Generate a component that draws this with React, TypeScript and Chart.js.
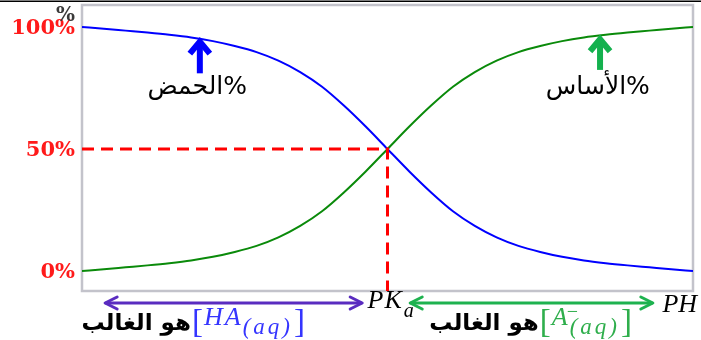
import { useEffect, useRef } from 'react';
import { Chart, registerables } from 'chart.js';
Chart.register(...registerables);

// pH positions along the x axis
const phValues = [0, 0.5, 1, 1.5, 2, 2.5, 3, 3.5, 4, 4.5, 5, 5.5, 6, 6.5, 7, 7.5, 8, 8.5, 9, 9.5, 10, 10.5, 11, 11.5, 12, 12.5, 13, 13.5, 14];
// % acid (HA) – blue curve
const acidPct = [100, 99.3, 98.5, 97.7, 96.8, 95.7, 94.2, 92.2, 89.7, 86.2, 81.5, 75.5, 67.8, 59.2, 50, 40.8, 32.2, 24.5, 18.5, 13.8, 10.3, 7.8, 5.8, 4.3, 3.2, 2.3, 1.5, 0.7, 0];
// % base (A-) – green curve
const basePct = [0, 0.7, 1.5, 2.3, 3.2, 4.3, 5.8, 7.8, 10.3, 13.8, 18.5, 24.5, 32.2, 40.8, 50, 59.2, 67.8, 75.5, 81.5, 86.2, 89.7, 92.2, 94.2, 95.7, 96.8, 97.7, 98.5, 99.3, 100];

const pKa = 7;
const halfPct = 50;
const yTicks = [100, 50, 0];
const yTickLabels = ['100%', '50%', '0%'];
const yMin = -8.2;
const yMax = 109;

const acidLabel = '%الحمض';
const baseLabel = '%الأساس';
const dominantLabel = 'هو الغالب';

// arrow annotations (pH, from %, to %)
const acidArrow = { ph: 2.7, from: 81, to: 94.8 };
const baseArrow = { ph: 11.87, from: 82.4, to: 95.8 };
const acidTextPos = { ph: 2.64, pct: 75 };
const baseTextPos = { ph: 11.82, pct: 75 };
// bottom ranges
const acidRange = [0.53, 6.42];
const baseRange = [7.52, 13.08];
const acidBracketPh = 2.52;
const baseBracketPh = 10.49;
const phLabelPh = 13.3;

function chevron(ctx: CanvasRenderingContext2D, tx: number, ty: number, dx: number, dy: number, len: number, half: number) {
  const px = -dy, py = dx;
  ctx.beginPath();
  ctx.moveTo(tx - dx * len + px * half, ty - dy * len + py * half);
  ctx.lineTo(tx, ty);
  ctx.lineTo(tx - dx * len - px * half, ty - dy * len - py * half);
  ctx.stroke();
}

const annotPlugin = {
  id: 'annot',
  beforeDatasetsDraw(chart: any) {
    const { ctx, chartArea: a } = chart;
    ctx.save();
    ctx.strokeStyle = '#c3c3cb';
    ctx.lineWidth = 2.5;
    ctx.strokeRect(a.left, a.top, a.right - a.left, a.bottom - a.top);
    ctx.restore();
  },
  afterDraw(chart: any) {
    const { ctx, chartArea: a, scales } = chart;
    const xs = scales.x, ys = scales.y;
    ctx.save();
    // top rule
    ctx.strokeStyle = '#000';
    ctx.lineWidth = 1.6;
    ctx.beginPath();
    ctx.moveTo(0, 1.2);
    ctx.lineTo(chart.width, 1.2);
    ctx.stroke();

    // y tick labels
    ctx.font = 'bold 21px "DejaVu Serif"';
    ctx.fillStyle = '#ff1a1a';
    ctx.textAlign = 'right';
    ctx.textBaseline = 'middle';
    yTicks.forEach((v, i) => {
      ctx.fillText(yTickLabels[i], a.left - 7, ys.getPixelForValue(v) + 2);
    });
    ctx.fillStyle = '#3a3a3a';
    ctx.font = 'bold 20px "DejaVu Serif"';
    ctx.fillText('%', a.left - 7, a.top + 11);

    // vertical arrows
    const drawUp = (arr: any, color: string) => {
      const x = xs.getPixelForValue(arr.ph);
      const y0 = ys.getPixelForValue(arr.from);
      const y1 = ys.getPixelForValue(arr.to);
      ctx.strokeStyle = color;
      ctx.lineWidth = 6;
      ctx.lineCap = 'butt';
      ctx.lineJoin = 'miter';
      ctx.beginPath();
      ctx.moveTo(x, y0);
      ctx.lineTo(x, y1 + 3);
      ctx.stroke();
      chevron(ctx, x, y1 + 2, 0, -1, 12, 10);
    };
    drawUp(acidArrow, '#0000ff');
    drawUp(baseArrow, '#14b14e');

    // curve labels
    ctx.fillStyle = '#000';
    ctx.font = '25px "DejaVu Sans"';
    ctx.textAlign = 'center';
    ctx.direction = 'rtl';
    ctx.fillText(acidLabel, xs.getPixelForValue(acidTextPos.ph), ys.getPixelForValue(acidTextPos.pct));
    ctx.fillText(baseLabel, xs.getPixelForValue(baseTextPos.ph), ys.getPixelForValue(baseTextPos.pct));
    ctx.direction = 'ltr';

    // bottom double arrows
    const ay = a.bottom + 12;
    const drawDouble = (r: number[], color: string) => {
      const x0 = xs.getPixelForValue(r[0]);
      const x1 = xs.getPixelForValue(r[1]);
      ctx.strokeStyle = color;
      ctx.lineWidth = 3;
      ctx.lineCap = 'round';
      ctx.lineJoin = 'round';
      ctx.beginPath();
      ctx.moveTo(x0 + 1, ay);
      ctx.lineTo(x1 - 1, ay);
      ctx.stroke();
      chevron(ctx, x0, ay, -1, 0, 12, 6);
      chevron(ctx, x1, ay, 1, 0, 12, 6);
    };
    drawDouble(acidRange, '#5a2cc0');
    drawDouble(baseRange, '#1eb24f');

    // PKa
    ctx.fillStyle = '#000';
    ctx.textAlign = 'left';
    ctx.textBaseline = 'alphabetic';
    const pkX = xs.getPixelForValue(pKa) - 20;
    ctx.font = 'italic 26px "Liberation Serif"';
    (ctx as any).letterSpacing = '1px';
    ctx.fillText('PK', pkX, a.bottom + 17);
    const pkW = ctx.measureText('PK').width;
    (ctx as any).letterSpacing = '0px';
    ctx.font = 'italic 20px "Liberation Serif"';
    ctx.fillText('a', pkX + pkW + 1, a.bottom + 26);
    // PH
    ctx.font = 'italic 26px "Liberation Serif"';
    ctx.fillText('PH', xs.getPixelForValue(phLabelPh), a.bottom + 21);

    // bracketed species
    const drawSpecies = (startPh: number, color: string, main: string, sup: string) => {
      let x = xs.getPixelForValue(startPh);
      const arX = x;
      ctx.fillStyle = color;
      ctx.textAlign = 'left';
      ctx.font = '33px "Liberation Serif"';
      ctx.fillText('[', x, a.bottom + 41);
      x += ctx.measureText('[').width;
      ctx.font = 'italic 26px "Liberation Serif"';
      (ctx as any).letterSpacing = '2px';
      ctx.fillText(main, x + 1, a.bottom + 34);
      x += ctx.measureText(main).width + 1;
      (ctx as any).letterSpacing = '0px';
      if (sup) {
        ctx.font = '20px "Liberation Serif"';
        ctx.fillText(sup, x - 3, a.bottom + 27);
      }
      ctx.font = 'italic 23px "Liberation Serif"';
      (ctx as any).letterSpacing = '3px';
      ctx.fillText('(aq)', x, a.bottom + 43);
      x += ctx.measureText('(aq)').width + 1;
      (ctx as any).letterSpacing = '0px';
      ctx.font = '33px "Liberation Serif"';
      ctx.fillText(']', x, a.bottom + 41);
      // arabic
      ctx.fillStyle = '#000';
      ctx.font = 'bold 23px "DejaVu Sans"';
      ctx.direction = 'rtl';
      ctx.textAlign = 'right';
      ctx.fillText(dominantLabel, arX - 1, a.bottom + 39);
      ctx.direction = 'ltr';
      ctx.textAlign = 'left';
    };
    drawSpecies(acidBracketPh, '#3535ff', 'HA', '');
    drawSpecies(baseBracketPh, '#2fae4c', 'A', '−');
    ctx.restore();
  },
};

export default function App() {
  const ref = useRef<HTMLCanvasElement>(null);
  useEffect(() => {
    document.body.style.margin = '0';
    const acid = phValues.map((x, i) => ({ x, y: acidPct[i] }));
    const base = phValues.map((x, i) => ({ x, y: basePct[i] }));
    const dash = [
      { x: phValues[0], y: halfPct },
      { x: pKa, y: halfPct },
      { x: pKa, y: yMin },
    ];
    const chart = new Chart(ref.current!, {
      type: 'line',
      data: {
        datasets: [
          { data: dash, borderColor: '#ff0000', borderWidth: 3, borderDash: [12, 7], pointRadius: 0, tension: 0, borderCapStyle: 'butt' },
          { data: acid, borderColor: '#0000ff', borderWidth: 2, pointRadius: 0, cubicInterpolationMode: 'monotone' },
          { data: base, borderColor: '#0a8a0a', borderWidth: 2, pointRadius: 0, cubicInterpolationMode: 'monotone' },
        ],
      },
      options: {
        animation: false,
        responsive: false,
        devicePixelRatio: 1,
        layout: { padding: { left: 82, top: 5, right: 8, bottom: 49 } },
        plugins: { legend: { display: false }, tooltip: { enabled: false } },
        scales: {
          x: { type: 'linear', min: 0, max: 14, display: false },
          y: { type: 'linear', min: yMin, max: yMax, display: false },
        },
      },
      plugins: [annotPlugin],
    } as any);
    return () => chart.destroy();
  }, []);
  return (
    <div style={{ position: 'absolute', left: 0, top: 0, width: 701, height: 340, background: '#fff' }}>
      <canvas ref={ref} width={701} height={340} />
    </div>
  );
}
